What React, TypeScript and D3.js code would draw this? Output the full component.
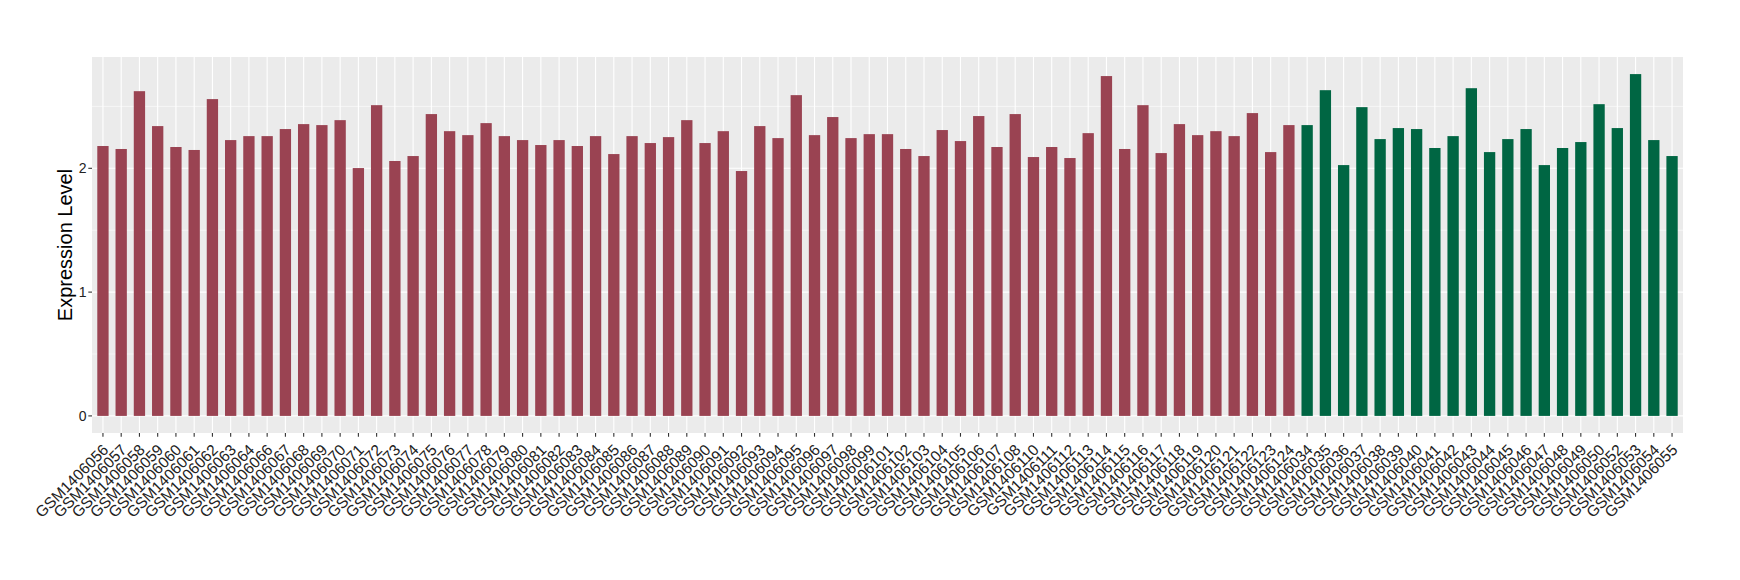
import React from "react";
import * as d3 from "d3";

const redSamples = [
  "GSM1406056","GSM1406057","GSM1406058","GSM1406059","GSM1406060","GSM1406061","GSM1406062","GSM1406063","GSM1406064","GSM1406066",
  "GSM1406067","GSM1406068","GSM1406069","GSM1406070","GSM1406071","GSM1406072","GSM1406073","GSM1406074","GSM1406075","GSM1406076",
  "GSM1406077","GSM1406078","GSM1406079","GSM1406080","GSM1406081","GSM1406082","GSM1406083","GSM1406084","GSM1406085","GSM1406086",
  "GSM1406087","GSM1406088","GSM1406089","GSM1406090","GSM1406091","GSM1406092","GSM1406093","GSM1406094","GSM1406095","GSM1406096",
  "GSM1406097","GSM1406098","GSM1406099","GSM1406101","GSM1406102","GSM1406103","GSM1406104","GSM1406105","GSM1406106","GSM1406107",
  "GSM1406108","GSM1406110","GSM1406111","GSM1406112","GSM1406113","GSM1406114","GSM1406115","GSM1406116","GSM1406117","GSM1406118",
  "GSM1406119","GSM1406120","GSM1406121","GSM1406122","GSM1406123","GSM1406124"
];
const redValues = [
  2.18, 2.156, 2.623, 2.341, 2.172, 2.148, 2.559, 2.228, 2.26, 2.26,
  2.317, 2.357, 2.349, 2.389, 2.002, 2.51, 2.059, 2.099, 2.438, 2.30,
  2.268, 2.365, 2.26, 2.228, 2.188, 2.228, 2.18, 2.26, 2.115, 2.26,
  2.204, 2.252, 2.389, 2.204, 2.30, 1.978, 2.341, 2.244, 2.591, 2.268,
  2.414, 2.244, 2.276, 2.276, 2.156, 2.099, 2.309, 2.22, 2.422, 2.172,
  2.438, 2.091, 2.172, 2.083, 2.284, 2.745, 2.156, 2.51, 2.123, 2.357,
  2.268, 2.30, 2.26, 2.446, 2.131, 2.349
];
const greenSamples = [
  "GSM1406034","GSM1406035","GSM1406036","GSM1406037","GSM1406038","GSM1406039","GSM1406040","GSM1406041","GSM1406042","GSM1406043",
  "GSM1406044","GSM1406045","GSM1406046","GSM1406047","GSM1406048","GSM1406049","GSM1406050","GSM1406052","GSM1406053","GSM1406054",
  "GSM1406055"
];
const greenValues = [
  2.349, 2.631, 2.026, 2.494, 2.236, 2.325, 2.317, 2.164, 2.26, 2.647,
  2.131, 2.236, 2.317, 2.026, 2.164, 2.212, 2.518, 2.325, 2.761, 2.228,
  2.099
];
const yTicks = [0, 1, 2];
const yMinor = [0.5, 1.5, 2.5];
const yLabel = "Expression Level";

const RED = "#9A4352";
const GREEN = "#006643";

export default function App() {
  const W = 1740, H = 580;
  const left = 92, right = 1683, top = 57, bottom = 433;
  const data = [
    ...redSamples.map((s, i) => ({ s, v: redValues[i], c: RED })),
    ...greenSamples.map((s, i) => ({ s, v: greenValues[i], c: GREEN })),
  ];
  const maxV = d3.max(data, d => d.v) as number;
  const x = d3.scalePoint<string>().domain(data.map(d => d.s)).range([left, right]).padding(0.6);
  const y = d3.scaleLinear().domain([-0.05 * maxV, 1.05 * maxV]).range([bottom, top]);
  const step = x.step();
  const bw = step * 0.62;
  const font = "'Liberation Sans', Arial, Helvetica, sans-serif";

  return (
    <svg width={W} height={H} style={{ position: "absolute", left: 0, top: 0, background: "#fff" }} fontFamily={font}>
      <rect x={left} y={top} width={right - left} height={bottom - top} fill="#EBEBEB" />
      {yMinor.map(t => (
        <line key={"mn" + t} x1={left} x2={right} y1={y(t)} y2={y(t)} stroke="#fff" strokeWidth={0.55} />
      ))}
      {yTicks.map(t => (
        <line key={"mj" + t} x1={left} x2={right} y1={y(t)} y2={y(t)} stroke="#fff" strokeWidth={1.1} />
      ))}
      {data.map(d => (
        <line key={"vg" + d.s} x1={x(d.s)} x2={x(d.s)} y1={top} y2={bottom} stroke="#fff" strokeWidth={1.1} />
      ))}
      {data.map(d => (
        <rect key={"b" + d.s} x={(x(d.s) as number) - bw / 2} y={y(d.v)} width={bw} height={y(0) - y(d.v)} fill={d.c} />
      ))}
      {yTicks.map(t => (
        <g key={"yt" + t}>
          <line x1={left - 3.7} x2={left} y1={y(t)} y2={y(t)} stroke="#333" strokeWidth={1.1} />
          <text x={left - 5.5} y={y(t)} dy="0.35em" textAnchor="end" fontSize={14} fill="#222">{t}</text>
        </g>
      ))}
      {data.map(d => (
        <g key={"xt" + d.s}>
          <line x1={x(d.s)} x2={x(d.s)} y1={bottom} y2={bottom + 3.7} stroke="#333" strokeWidth={1.1} />
          <text
            transform={`translate(${(x(d.s) as number) - 1.4},443) rotate(-45)`}
            textAnchor="end"
            dy="0.72em"
            fontSize={15.5}
            fill="#222"
          >{d.s}</text>
        </g>
      ))}
      <text transform={`translate(65,${(top + bottom) / 2}) rotate(-90)`} textAnchor="middle" dy="0.35em" fontSize={20} fill="#000">{yLabel}</text>
    </svg>
  );
}
